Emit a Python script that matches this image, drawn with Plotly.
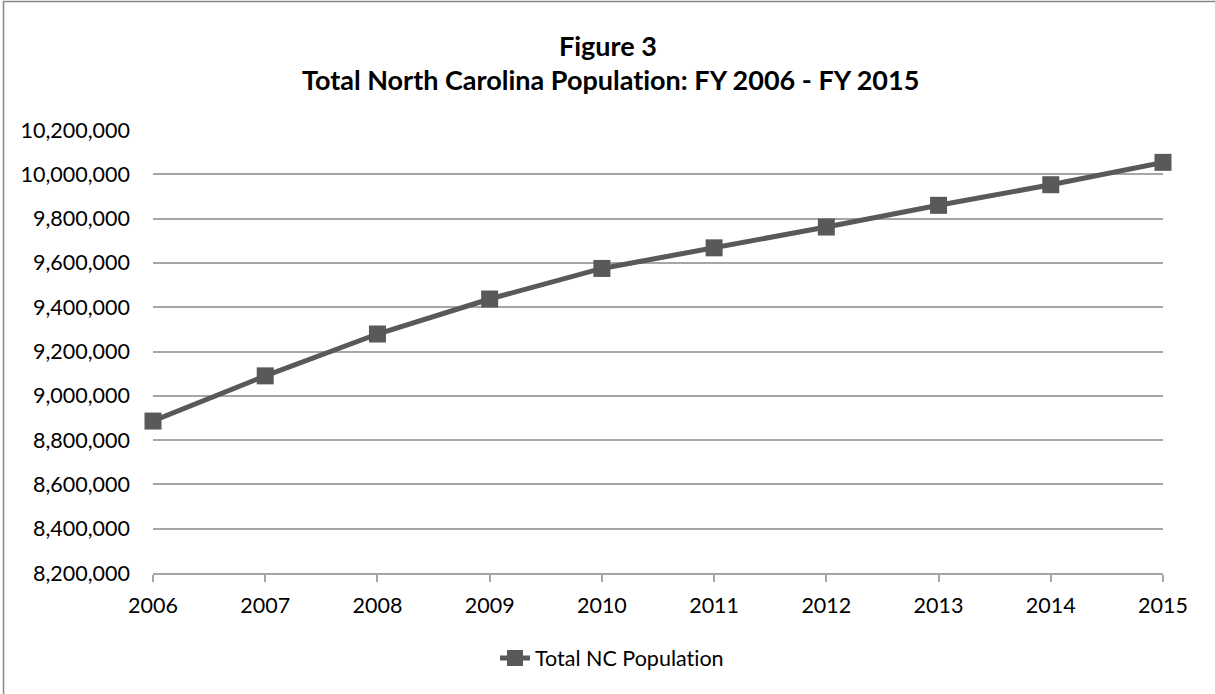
import plotly.graph_objects as go

years = ["2006", "2007", "2008", "2009", "2010", "2011", "2012", "2013", "2014", "2015"]
population = [8886000, 9090000, 9279000, 9437000, 9575000, 9668000, 9762000, 9860000, 9953000, 10054000]
y_ticks = [8200000 + 200000 * i for i in range(11)]
y_tick_labels = [f"{v:,}" for v in y_ticks]

ZWNJ = "\u200c"  # prevents the 'ti' ligature in Lato
series_name = "Total NC Populat" + ZWNJ + "ion"
title_line1 = "Figure 3"
title_line2 = "Total North Carolina Populat" + ZWNJ + "ion: FY 2006 - FY 2015"

W, H = 1215, 694
L, R, T, B = 153, 52, 130, 121
pw, ph = W - L - R, H - T - B

def px(x):
    return (x - L) / pw

def py(y):
    return (H - B - y) / ph

FONT = "Lato"
GRID = "#a6a6a6"
LINE = "#595959"
TICK_SIZE = 21.5

fig = go.Figure()
fig.add_trace(go.Scatter(
    x=years, y=population, name=series_name, mode="lines+markers",
    line=dict(color=LINE, width=5),
    marker=dict(symbol="square", size=17, color=LINE),
    cliponaxis=False,
))

fig.update_layout(
    width=W, height=H,
    margin=dict(l=L, r=R, t=T, b=B),
    paper_bgcolor="white", plot_bgcolor="white",
    font=dict(family=FONT, size=TICK_SIZE, color="black"),
    showlegend=True,
    legend=dict(orientation="h", x=px(612), xanchor="center", y=py(658), yanchor="middle",
                font=dict(family=FONT, size=TICK_SIZE, color="black"), bgcolor="rgba(0,0,0,0)"),
    xaxis=dict(type="category", range=[0, 9], showgrid=False,
               showline=True, linecolor=GRID, linewidth=2,
               ticks="outside", ticklen=7, tickwidth=2, tickcolor=GRID,
               tickfont=dict(family=FONT, size=TICK_SIZE, color="black"),
               ticklabelstandoff=5, zeroline=False, fixedrange=True),
    yaxis=dict(range=[8200000, 10200000], tickvals=y_ticks, ticktext=y_tick_labels,
               showgrid=True, gridcolor=GRID, gridwidth=2, showline=False,
               ticks="", ticklabelstandoff=22, zeroline=False,
               tickfont=dict(family=FONT, size=TICK_SIZE, color="black"), fixedrange=True),
    annotations=[
        dict(text=f"<b>{title_line1}</b>", xref="paper", yref="paper", x=px(608), y=py(46),
             xanchor="center", yanchor="middle", showarrow=False,
             font=dict(family=FONT, size=27, color="black")),
        dict(text=f"<b>{title_line2}</b>", xref="paper", yref="paper", x=px(610), y=py(80),
             xanchor="center", yanchor="middle", showarrow=False,
             font=dict(family=FONT, size=27, color="black")),
    ],
    shapes=[dict(type="rect", xref="paper", yref="paper",
                 x0=px(3.5), x1=px(1218), y0=py(698), y1=py(1.5),
                 line=dict(color="#868686", width=1.5), fillcolor="rgba(0,0,0,0)", layer="below")],
)

fig.write_html("out.html")
